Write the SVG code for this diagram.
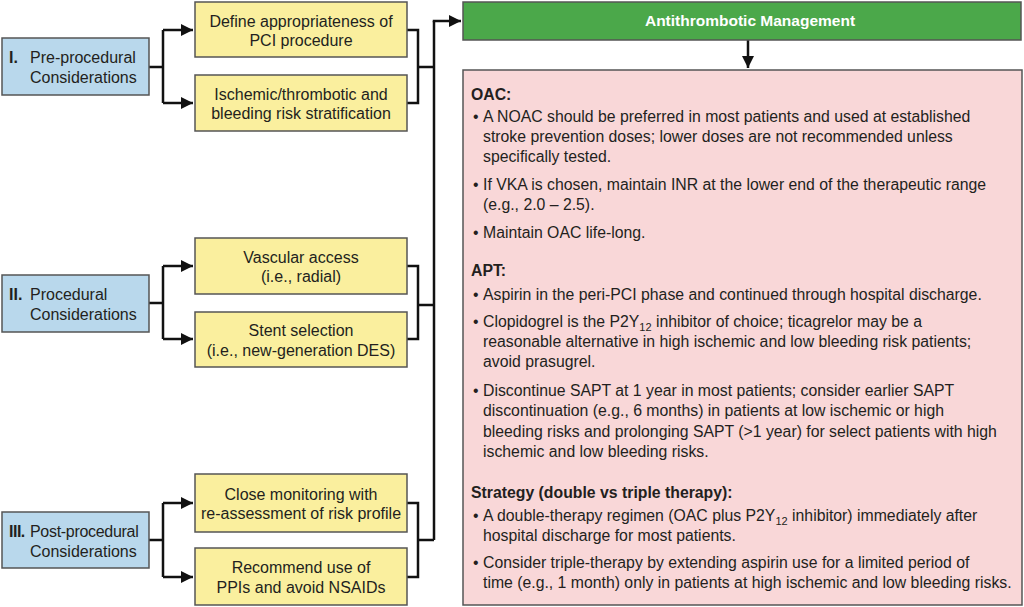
<svg xmlns="http://www.w3.org/2000/svg" width="1024" height="607" viewBox="0 0 1024 607">
<defs>
<marker id="ah" viewBox="0 0 10 10" refX="10" refY="5" markerWidth="5" markerHeight="5" markerUnits="strokeWidth" orient="auto"><path d="M0,0 L10,5 L0,10 z" fill="#111"/></marker>
<style>
.blue{fill:#b9d8ec;stroke:#555;stroke-width:1.5}
.yel{fill:#faef9e;stroke:#555;stroke-width:1.5}
.t{font-family:"Liberation Sans",Arial,sans-serif;fill:#231f20}
.n{font-size:16px}
.c{text-anchor:middle}
.b{font-weight:bold}
.p{font-size:15.8px}
.con{fill:none;stroke:#111;stroke-width:2.5}
</style>
</defs>
<rect width="1024" height="607" fill="#fff"/>

<g id="connectors">
<path class="con" d="M149,67 H163 M163,30 V103"/>
<path class="con" d="M163,30 H193" marker-end="url(#ah)"/>
<path class="con" d="M163,103 H193" marker-end="url(#ah)"/>
<path class="con" d="M149,303 H163 M163,266 V339"/>
<path class="con" d="M163,266 H193" marker-end="url(#ah)"/>
<path class="con" d="M163,339 H193" marker-end="url(#ah)"/>
<path class="con" d="M149,540 H163 M163,503 V577"/>
<path class="con" d="M163,503 H193" marker-end="url(#ah)"/>
<path class="con" d="M163,577 H193" marker-end="url(#ah)"/>
<path class="con" d="M407,30 H418 V103 H407 M418,67 H434"/>
<path class="con" d="M407,266 H418 V339 H407 M418,305 H434"/>
<path class="con" d="M407,503 H418 V577 H407 M418,540 H434"/>
<path class="con" d="M434,540 V21"/>
<path class="con" d="M432.75,21 H461" marker-end="url(#ah)"/>
<path class="con" d="M748,40 V68" marker-end="url(#ah)"/>
</g>

<g id="pre">
<rect class="blue" x="2" y="38" width="147" height="57"/>
<text class="t n b" x="9" y="63">I.</text>
<text class="t n" x="30" y="63">Pre-procedural</text>
<text class="t n" x="30" y="83">Considerations</text>
</g>
<g id="proc">
<rect class="blue" x="2" y="275" width="147" height="57"/>
<text class="t n b" x="9" y="300">II.</text>
<text class="t n" x="30" y="300">Procedural</text>
<text class="t n" x="30" y="320">Considerations</text>
</g>
<g id="post">
<rect class="blue" x="2" y="512" width="147" height="56"/>
<text class="t n b" x="9" y="537" letter-spacing="-0.5">III.</text>
<text class="t n" x="30" y="537" letter-spacing="-0.3">Post-procedural</text>
<text class="t n" x="30" y="557">Considerations</text>
</g>

<g id="define">
<rect class="yel" x="195" y="2" width="212" height="55"/>
<text class="t n c" x="301" y="26.5">Define appropriateness of</text>
<text class="t n c" x="301" y="46">PCI procedure</text>
</g>
<g id="risk">
<rect class="yel" x="195" y="75" width="212" height="56"/>
<text class="t n c" x="301" y="99.5">Ischemic/thrombotic and</text>
<text class="t n c" x="301" y="119">bleeding risk stratification</text>
</g>
<g id="vascular">
<rect class="yel" x="195" y="238" width="212" height="56"/>
<text class="t n c" x="301" y="262.5">Vascular access</text>
<text class="t n c" x="301" y="282">(i.e., radial)</text>
</g>
<g id="stent">
<rect class="yel" x="195" y="312" width="212" height="55"/>
<text class="t n c" x="301" y="336">Stent selection</text>
<text class="t n c" x="301" y="355.5">(i.e., new-generation DES)</text>
</g>
<g id="monitor">
<rect class="yel" x="195" y="474" width="212" height="58"/>
<text class="t n c" x="301" y="499.5">Close monitoring with</text>
<text class="t n c" x="301" y="519">re-assessment of risk profile</text>
</g>
<g id="ppi">
<rect class="yel" x="195" y="548" width="212" height="57"/>
<text class="t n c" x="301" y="573">Recommend use of</text>
<text class="t n c" x="301" y="592.5">PPIs and avoid NSAIDs</text>
</g>

<g id="header">
<rect x="463" y="2" width="558" height="38" fill="#4ba84a" stroke="#555" stroke-width="1.5"/>
<text class="t b c" x="750" y="26" font-size="15.5" style="fill:#fff">Antithrombotic Management</text>
</g>

<g id="management">
<rect x="463" y="70" width="559" height="535" fill="#f9d7d8" stroke="#555" stroke-width="1.5"/>
<g class="t p">
<text class="b" x="471" y="100">OAC:</text>
<text x="473" y="122">•</text><text x="483" y="122">A NOAC should be preferred in most patients and used at established</text>
<text x="483" y="142">stroke prevention doses; lower doses are not recommended unless</text>
<text x="483" y="162">specifically tested.</text>
<text x="473" y="190">•</text><text x="483" y="190">If VKA is chosen, maintain INR at the lower end of the therapeutic range</text>
<text x="483" y="210">(e.g., 2.0 – 2.5).</text>
<text x="473" y="238">•</text><text x="483" y="238">Maintain OAC life-long.</text>

<text class="b" x="471" y="276">APT:</text>
<text x="473" y="300">•</text><text x="483" y="300">Aspirin in the peri-PCI phase and continued through hospital discharge.</text>
<text x="473" y="327">•</text><text x="483" y="327">Clopidogrel is the P2Y<tspan font-size="11" dy="4">12</tspan><tspan dy="-4"> inhibitor of choice; ticagrelor may be a</tspan></text>
<text x="483" y="347">reasonable alternative in high ischemic and low bleeding risk patients;</text>
<text x="483" y="367">avoid prasugrel.</text>
<text x="473" y="396">•</text><text x="483" y="396">Discontinue SAPT at 1 year in most patients; consider earlier SAPT</text>
<text x="483" y="416">discontinuation (e.g., 6 months) in patients at low ischemic or high</text>
<text x="483" y="437">bleeding risks and prolonging SAPT (&gt;1 year) for select patients with high</text>
<text x="483" y="457">ischemic and low bleeding risks.</text>

<text class="b" x="471" y="498">Strategy (double vs triple therapy):</text>
<text x="473" y="521">•</text><text x="483" y="521">A double-therapy regimen (OAC plus P2Y<tspan font-size="11" dy="4">12</tspan><tspan dy="-4"> inhibitor) immediately after</tspan></text>
<text x="483" y="541">hospital discharge for most patients.</text>
<text x="473" y="568">•</text><text x="483" y="568">Consider triple-therapy by extending aspirin use for a limited period of</text>
<text x="483" y="588">time (e.g., 1 month) only in patients at high ischemic and low bleeding risks.</text>
</g>
</g>
</svg>
